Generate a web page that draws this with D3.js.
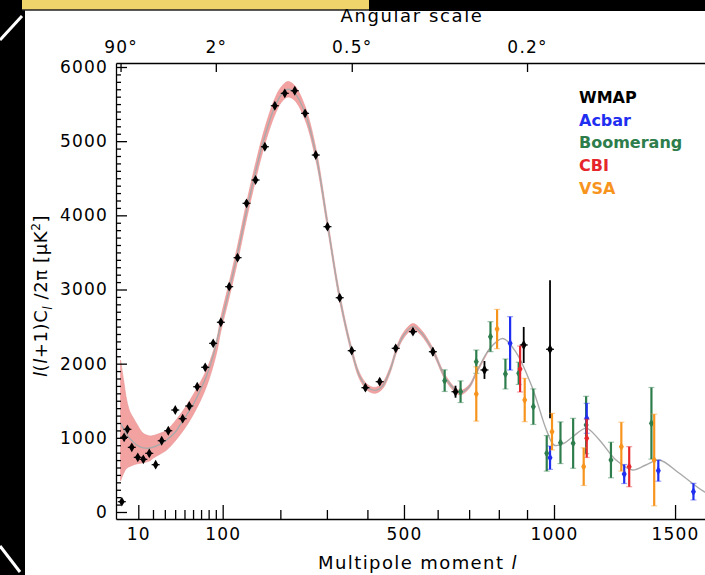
<!DOCTYPE html>
<html><head><meta charset="utf-8">
<script src="https://cdn.jsdelivr.net/npm/d3@7"></script>
<style>body{margin:0;background:#fff}svg{display:block}</style>
</head><body>
<svg id="c" width="705" height="575"></svg>
<script>
// ---------- data ----------
const curveL = [2,3,4,5,7,10,13,17,21,26,32,40,45,52,60,68,77,86,97,110,123,138,154,170,189,202,215,229,251,275,301,330,360,380,400,420,440,460,480,500,526,550,585,627,669,700,724,768,814,861,921,970,1001,1040,1072,1125,1177,1246,1315,1372,1430,1519,1632,1700];
const curveV = [1200,1120,1060,1010,950,890,865,860,880,915,975,1075,1170,1300,1445,1620,1830,2100,2520,3000,3480,4060,4600,5060,5460,5630,5700,5650,5380,4820,3900,2900,2170,1830,1680,1640,1700,1900,2200,2390,2500,2420,2180,1790,1610,1690,1880,2200,2340,2150,1660,1120,900,930,1015,1128,975,700,566,634,701,522,274,200];

const bandL  = [2,3,4.2,5.6,7.3,9.5,13,17.7,20,25.7,31.7,45,60,77,91,97,110,123,138,154,170,189,202,215,229,251,275,301,330,360,380,400,420,440,460,480,500,526,550,585,627,669,700,724,768];
const bandLo = [420,520,590,615,634,650,665,690,724,780,836,1038,1308,1689,2140,2425,2900,3375,3950,4490,4950,5350,5525,5595,5550,5290,4740,3835,2845,2125,1788,1640,1600,1660,1860,2160,2350,2460,2382,2145,1758,1580,1665,1860,2195];
const bandHi = [2050,1780,1510,1352,1267,1173,1061,1025,1030,1061,1105,1308,1577,1915,2319,2615,3100,3585,4170,4710,5170,5570,5735,5805,5750,5470,4900,3965,2955,2215,1872,1720,1680,1740,1940,2240,2430,2540,2458,2215,1822,1640,1715,1900,2205];

const wmapL = [2.4,3.2,4.5,6.5,9.7,13.1,17.2,22.1,27.2,33.2,40.1,48,55.5,65.1,75.4,86.3,97.3,109.9,123.1,138,153.6,170.4,189.2,208.8,229.2,251.1,274.6,301.3,330.4,359.9,394.8,432.6,476.6,525.9,585.3,656,751,888,985];
const wmapV = [139,1007,1115,872,737,710,791,638,961,1096,1375,1258,1429,1689,1951,2274,2558,3038,3429,4162,4476,4925,5478,5645,5680,5375,4813,3847,2889,2175,1676,1757,2207,2431,2161,1622,1915,2252,2194];
const wmapE = [30,30,30,30,30,30,30,30,30,30,30,30,30,30,30,30,40,40,40,40,40,40,40,40,40,40,40,40,40,40,40,40,40,45,54,81,121,243,930];

const boomL = [621.7,672.2,723.6,771.3,823,870,923,972.6,1024.6,1073.6,1124.6,1225,1396];
const boomV = [1771,1622,2027,2364,1861,1870,1420,791,934,926,1173,701,1196];
const boomE = [146,146,157,202,202,150,240,240,281,337,387,240,483];

const acbarL = [839.5,985,1127,1280,1426,1583];
const acbarV = [2274,732,1263,512,557,274];
const acbarE = [360,157,202,128,142,112];

const cbiL = [875,1127,1301];
const cbiV = [1928,993,611];
const cbiE = [310,258,270];

const vsaL = [723.6,794,891.6,992.5,1115,1268,1408];
const vsaV = [1591,2467,1510,1083,611,881,701];
const vsaE = [366,265,292,247,254,330,618];

const xMajor = [10,100,500,1000,1500];
const xMinor = [20,30,40,50,60,70,80,90,200,300,400,600,700,800,900];
const yMajor = [0,1000,2000,3000,4000,5000,6000];
const angDeg = [90,2,0.5,0.2];
const angLabels = ["90°","2°","0.5°","0.2°"];

const legendNames  = ["WMAP","Acbar","Boomerang","CBI","VSA"];
const legendColors = ["#000000","#1f2ef0","#2e7d4c","#e5262b","#f7941d"];

// ---------- drawing ----------
const W = 705, H = 575;
const FONT = "'DejaVu Sans', sans-serif";
const svg = d3.select('#c');
svg.append('rect').attr('width', W).attr('height', H).attr('fill', '#fff');

// surrounding slide decoration
svg.append('rect').attr('x', 0).attr('y', 0).attr('width', 25).attr('height', H).attr('fill', '#000');
svg.append('rect').attr('x', 22).attr('y', 0).attr('width', 347).attr('height', 10).attr('fill', '#efd36b');
svg.append('rect').attr('x', 369).attr('y', 0).attr('width', 336).attr('height', 11).attr('fill', '#000');
svg.append('line').attr('x1', 22).attr('x2', 369).attr('y1', 10).attr('y2', 10).attr('stroke', '#222').attr('stroke-width', 1.5);
svg.append('line').attr('x1', 0).attr('y1', 40).attr('x2', 22).attr('y2', 16).attr('stroke', '#fff').attr('stroke-width', 3);
svg.append('line').attr('x1', 0).attr('y1', 546).attr('x2', 20).attr('y2', 572).attr('stroke', '#fff').attr('stroke-width', 3);

const x = d3.scalePow().exponent(0.594).domain([10, 1000]).range([138.3, 554]);
const y = d3.scaleLinear().domain([0, 6000]).range([512, 67]);
const X0 = 116, X1 = 712, Y0 = 519, Y1 = 63;
const xa = x.copy().domain([x.invert(X0), x.invert(X1)]).range([X0, X1]);
const ya = y.copy().domain([y.invert(Y0), y.invert(Y1)]).range([Y0, Y1]);

svg.append('clipPath').attr('id', 'clip').append('rect')
  .attr('x', X0).attr('y', Y1).attr('width', X1 - X0).attr('height', Y0 - Y1);
const plot = svg.append('g').attr('clip-path', 'url(#clip)');

// cosmic variance band
const band = bandL.map((l, i) => ({l, lo: bandLo[i], hi: bandHi[i]}));
plot.append('path').datum(band)
  .attr('d', d3.area().x(d => x(d.l)).y0(d => y(d.lo)).y1(d => y(d.hi)).curve(d3.curveCatmullRom.alpha(0.5)))
  .attr('fill', '#f3a2a2').attr('stroke', '#e79494').attr('stroke-width', 0.6);

// theory curve
const curve = curveL.map((l, i) => ({l, v: curveV[i]}));
plot.append('path').datum(curve)
  .attr('d', d3.line().x(d => x(d.l)).y(d => y(d.v)).curve(d3.curveCatmullRom.alpha(0.5)))
  .attr('fill', 'none').attr('stroke', '#a9a9a9').attr('stroke-width', 1.4);

function series(L, V, E, color, isWmap) {
  const g = plot.append('g');
  const d = L.map((l, i) => ({l, v: V[i], e: E[i]}));
  g.selectAll('line.eb').data(d).join('line').attr('class', 'eb')
    .attr('x1', p => x(p.l)).attr('x2', p => x(p.l))
    .attr('y1', p => y(p.v - p.e)).attr('y2', p => y(p.v + p.e))
    .attr('stroke', color).attr('stroke-width', isWmap ? 1.8 : 2.2);
  if (!isWmap) {
    ['lo', 'hi'].forEach(k => {
      g.selectAll('line.cap' + k).data(d).join('line').attr('class', 'cap' + k)
        .attr('x1', p => x(p.l) - 3).attr('x2', p => x(p.l) + 3)
        .attr('y1', p => y(k === 'lo' ? p.v - p.e : p.v + p.e))
        .attr('y2', p => y(k === 'lo' ? p.v - p.e : p.v + p.e))
        .attr('stroke', color).attr('stroke-opacity', 0.45).attr('stroke-width', 1.2);
    });
  } else {
    g.selectAll('line.hz').data(d).join('line').attr('class', 'hz')
      .attr('x1', p => x(p.l) - 4).attr('x2', p => x(p.l) + 4)
      .attr('y1', p => y(p.v)).attr('y2', p => y(p.v))
      .attr('stroke', color).attr('stroke-width', 1.2);
  }
  g.selectAll('path.pt').data(d).join('path').attr('class', 'pt')
    .attr('transform', p => `translate(${x(p.l)},${y(p.v)})`)
    .attr('d', d3.symbol().type(d3.symbolDiamond).size(isWmap ? 28 : 22))
    .attr('fill', color);
}
series(wmapL, wmapV, wmapE, legendColors[0], true);
series(boomL, boomV, boomE, legendColors[2], false);
series(acbarL, acbarV, acbarE, legendColors[1], false);
series(cbiL, cbiV, cbiE, legendColors[3], false);
series(vsaL, vsaV, vsaE, legendColors[4], false);

// ---------- axes ----------
function styleAxis(g) {
  g.selectAll('path.domain').attr('stroke', '#000').attr('stroke-width', 1.3);
  g.selectAll('.tick line').attr('stroke', '#000').attr('stroke-width', 1.3);
  g.selectAll('text').attr('font-family', FONT).attr('font-size', 17).attr('letter-spacing', 1.2).attr('fill', '#000');
}
// bottom
svg.append('g').attr('transform', `translate(0,${Y0})`)
  .call(d3.axisBottom(xa).tickValues(xMajor).tickSize(-14).tickSizeOuter(0).tickPadding(9).tickFormat(d => String(d)))
  .call(styleAxis);
svg.append('g').attr('transform', `translate(0,${Y0})`)
  .call(d3.axisBottom(xa).tickValues(xMinor).tickSize(-9).tickSizeOuter(0).tickFormat(''))
  .call(g => g.select('path.domain').remove()).call(styleAxis);
// top (angular scale)
svg.append('g').attr('transform', `translate(0,${Y1})`)
  .call(d3.axisTop(xa).tickValues(angDeg.map(a => 180 / a)).tickSize(-9).tickSizeOuter(0).tickPadding(10)
    .tickFormat((d, i) => angLabels[i]))
  .call(styleAxis);
// left
svg.append('g').attr('transform', `translate(${X0},0)`)
  .call(d3.axisLeft(ya).tickValues(yMajor).tickSize(-11).tickSizeOuter(0).tickPadding(8).tickFormat(d => String(d)))
  .call(styleAxis);
svg.append('g').attr('transform', `translate(${X0},0)`)
  .call(d3.axisLeft(ya).tickValues(d3.range(0, 6001, 100).filter(v => v % 1000 !== 0)).tickSize(-5).tickSizeOuter(0).tickFormat(''))
  .call(g => g.select('path.domain').remove()).call(styleAxis);

// axis titles
svg.append('text').attr('x', 412).attr('y', 22).attr('text-anchor', 'middle')
  .attr('font-family', FONT).attr('font-size', 18).attr('letter-spacing', 1.6).text('Angular scale');
const xt = svg.append('text').attr('x', 418).attr('y', 569).attr('text-anchor', 'middle')
  .attr('font-family', FONT).attr('font-size', 18).attr('letter-spacing', 1.4);
xt.append('tspan').text('Multipole moment ');
xt.append('tspan').attr('font-style', 'italic').text('l');

const yt = svg.append('text').attr('transform', 'translate(47,296) rotate(-90)').attr('text-anchor', 'middle')
  .attr('font-family', FONT).attr('font-size', 18).attr('letter-spacing', 0.6);
yt.append('tspan').attr('font-style', 'italic').text('l');
yt.append('tspan').text('(');
yt.append('tspan').attr('font-style', 'italic').text('l');
yt.append('tspan').text('+1)C');
yt.append('tspan').attr('font-style', 'italic').attr('font-size', 12).attr('dy', 5).text('l');
yt.append('tspan').attr('dy', -5).text(' /2π [μK');
yt.append('tspan').attr('font-size', 12).attr('dy', -7).text('2');
yt.append('tspan').attr('dy', 7).text(']');

// legend
svg.append('g').selectAll('text').data(legendNames).join('text')
  .attr('x', 579).attr('y', (d, i) => 103 + i * 22.7)
  .attr('font-family', FONT).attr('font-size', 16).attr('font-weight', 'bold')
  .attr('fill', (d, i) => legendColors[i]).text(d => d);
</script>
</body></html>
